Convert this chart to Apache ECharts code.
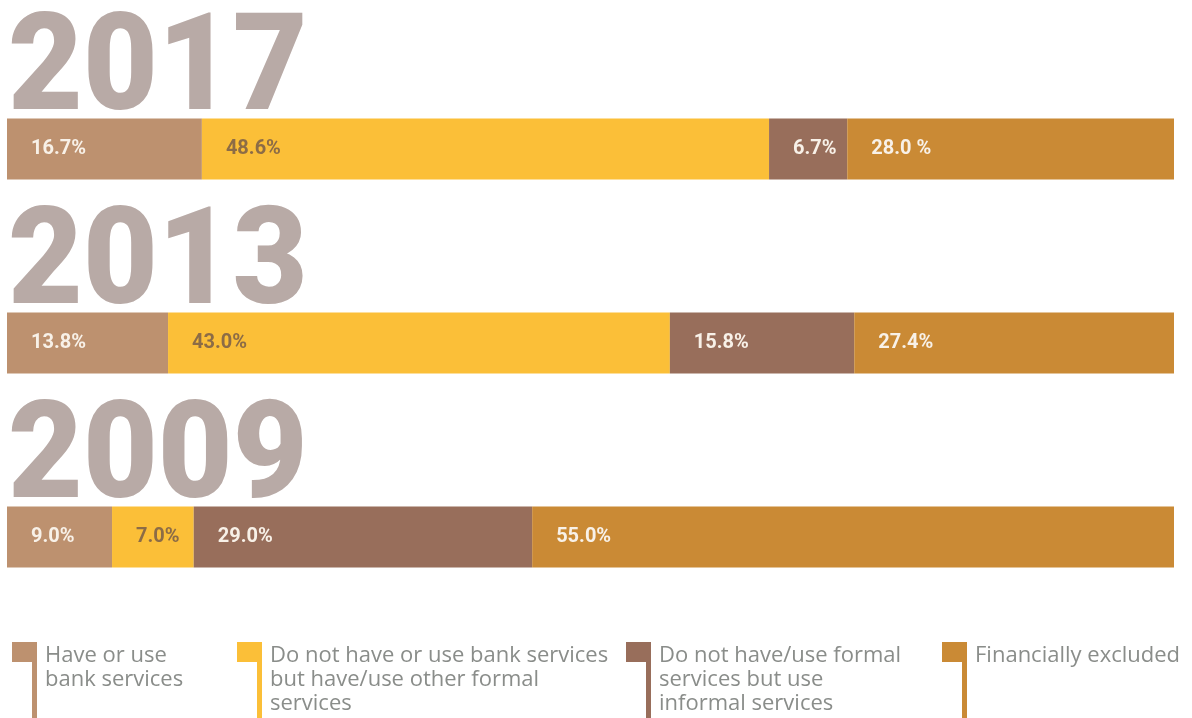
<!DOCTYPE html>
<html>
<head>
<meta charset="utf-8">
<title>Financial access by year</title>
<script src="https://cdn.jsdelivr.net/npm/echarts@6/dist/echarts.min.js"></script>
<style>
  html, body { margin: 0; padding: 0; background: #ffffff; }
  #chart { width: 1192px; height: 718px; }
</style>
</head>
<body>
<div id="chart"></div>
<script>
// Survey years, top to bottom
const years = ['2017', '2013', '2009'];

// Share of adults in each group (percent)
const haveBank = [16.7, 13.8, 9.0];
const otherFormal = [48.6, 43.0, 7.0];
const informalOnly = [6.7, 15.8, 29.0];
const excluded = [28.0, 27.4, 55.0];

const seriesNames = [
  'Have or use bank services',
  'Do not have or use bank services but have/use other formal services',
  'Do not have/use formal services but use informal services',
  'Financially excluded'
];

// Legend text as it is wrapped under each marker
const legendLines = [
  ['Have or use', 'bank services'],
  ['Do not have or use bank services', 'but have/use other formal', 'services'],
  ['Do not have/use formal', 'services but use', 'informal services'],
  ['Financially excluded']
];

const colors = ['#bd916f', '#fbbf38', '#986e5b', '#ca8a35'];
const labelColors = ['#f8f1e8', '#8c6c46', '#f8f1e8', '#f8f1e8'];
const legendLeft = [12, 237, 626, 942];

// Printed label differs from the default format in one place
const labelText = { '2017|3': '28.0 %' };

const BAR_H = 61;
const LABEL_FONT = 'Roboto, "Liberation Sans", sans-serif';

const chart = echarts.init(document.getElementById('chart'), null, { renderer: 'canvas' });

const valueSets = [haveBank, otherFormal, informalOnly, excluded];

const series = valueSets.map((vals, i) => ({
  name: seriesNames[i],
  type: 'bar',
  stack: 'total',
  barWidth: BAR_H,
  data: vals,
  itemStyle: { color: colors[i] },
  emphasis: { disabled: true },
  label: {
    show: true,
    position: 'insideLeft',
    distance: 24,
    color: labelColors[i],
    fontFamily: LABEL_FONT,
    fontSize: 20,
    fontWeight: 'bold',
    formatter: p => labelText[p.name + '|' + i] || (p.value.toFixed(1) + '%')
  }
}));

const legendMarker = 'path://M0,0 L25,0 L25,76 L20,76 L20,20 L0,20 Z';

const legends = seriesNames.map((name, i) => ({
  data: [name],
  left: legendLeft[i],
  top: 642,
  padding: 0,
  orient: 'vertical',
  selectedMode: false,
  icon: legendMarker,
  itemWidth: 25,
  itemHeight: 76,
  symbolKeepAspect: false,
  formatter: () => {
    const lines = legendLines[i].slice();
    while (lines.length < 3) lines.push(' ');
    return lines.join('\n');
  },
  textStyle: {
    color: '#8a8d8a',
    fontFamily: '"Open Sans", Roboto, sans-serif',
    fontSize: 22,
    lineHeight: 24,
    padding: [0, 0, 0, 3]
  }
}));

chart.setOption({
  animation: false,
  backgroundColor: '#ffffff',
  grid: { left: 7, right: 18, top: 52, height: 582, containLabel: false },
  xAxis: { type: 'value', min: 0, max: 100, show: false },
  yAxis: { type: 'category', data: years, inverse: true, show: false },
  legend: legends,
  series: series
});

// Big year headings sit just above each bar
const yearGraphics = years.map(y => {
  const cy = chart.convertToPixel({ yAxisIndex: 0 }, y);
  return {
    type: 'text',
    x: 8,
    y: cy - BAR_H / 2 - 112,
    scaleX: 0.95,
    silent: true,
    style: {
      text: y,
      x: 0,
      y: 0,
      font: '900 136px Roboto, "Liberation Sans", sans-serif',
      fill: '#b8aaa6'
    }
  };
});

chart.setOption({ graphic: yearGraphics });
</script>
</body>
</html>
